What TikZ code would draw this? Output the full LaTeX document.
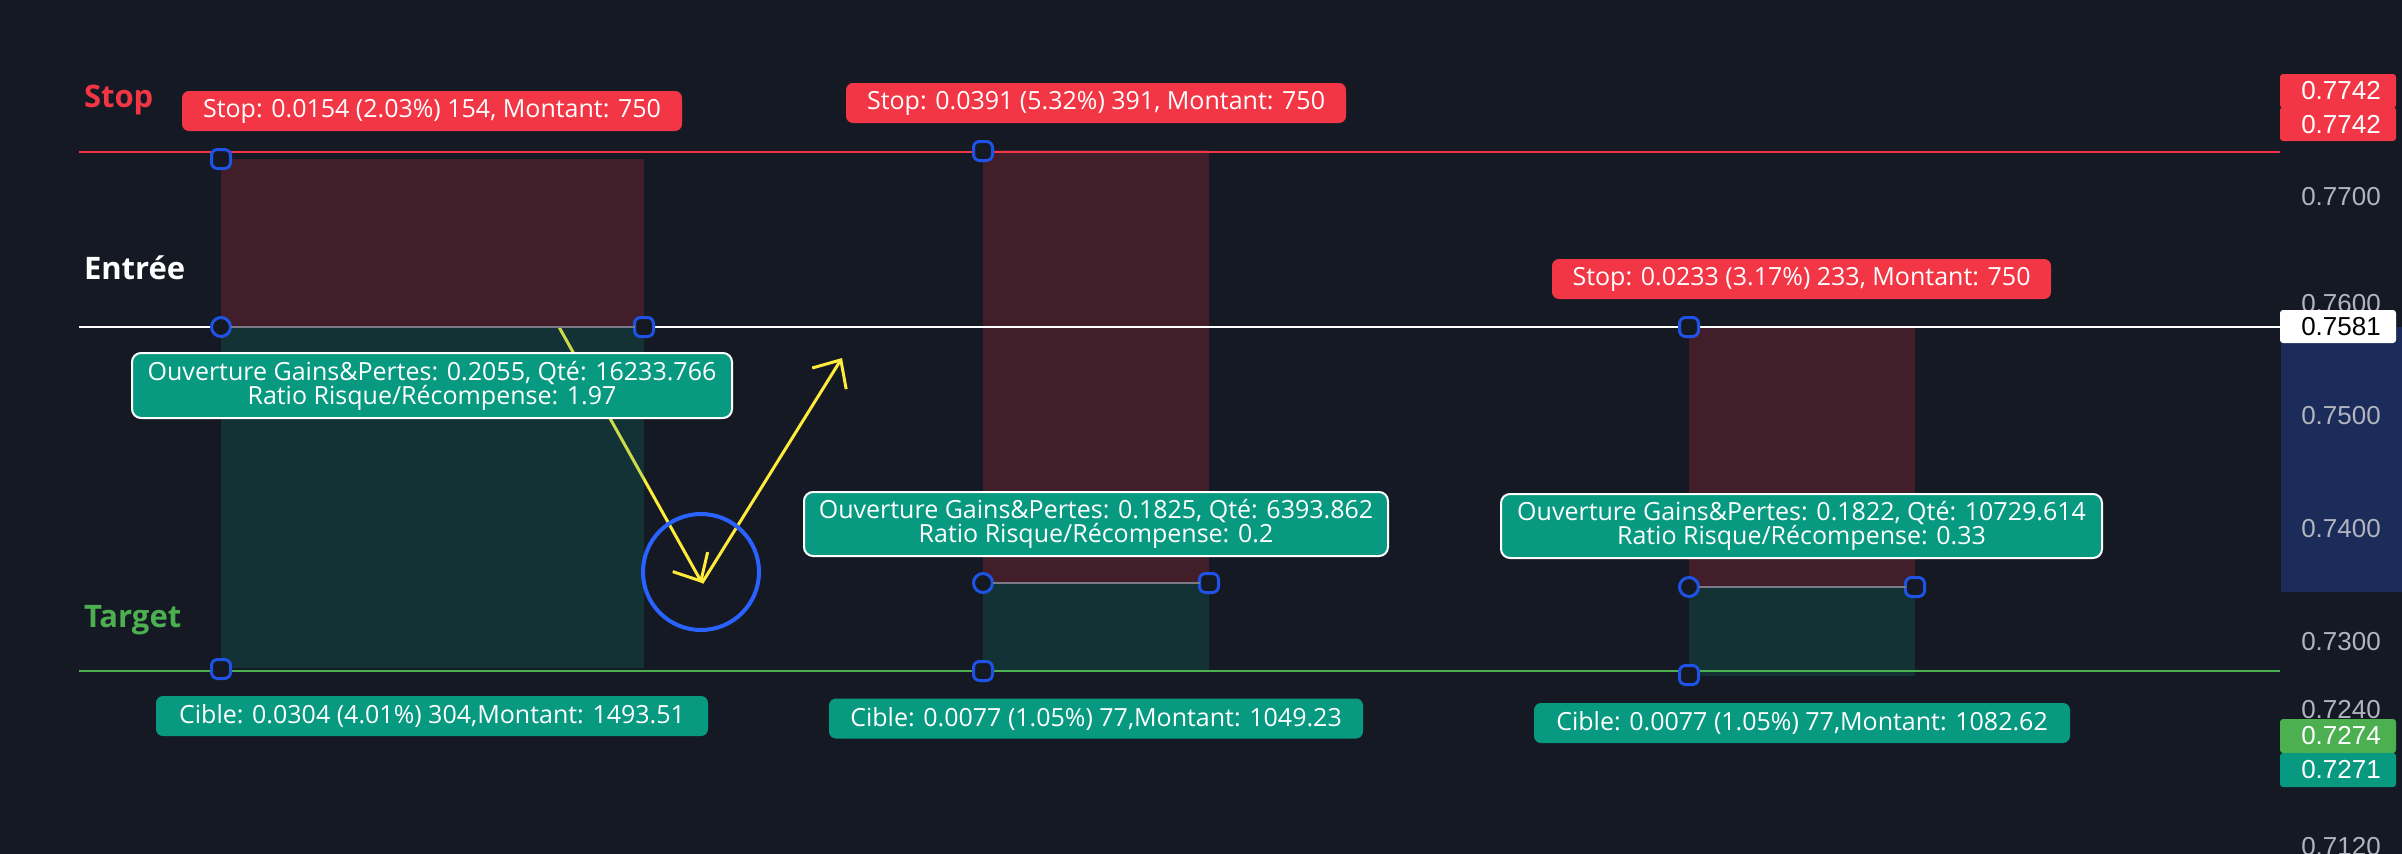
\documentclass[tikz,border=0pt]{standalone}
\usepackage{fontspec}
\setmainfont{Open Sans}
\newfontfamily\axisfont{Liberation Sans}
\usetikzlibrary{arrows.meta}
\definecolor{bg}{HTML}{151924}
\definecolor{tvred}{HTML}{F23645}
\definecolor{tvteal}{HTML}{089981}
\definecolor{tvgreen}{HTML}{4CAF50}
\definecolor{tvblue}{HTML}{2962FF}
\definecolor{handleblue}{HTML}{1E53E5}
\definecolor{axisgrey}{HTML}{B2B5BE}
\definecolor{midgrey}{HTML}{787B86}
\definecolor{scaleblue}{HTML}{1B2C5B}
\definecolor{arrowyellow}{HTML}{FFEB3B}
\begin{document}
\begin{tikzpicture}[x=1pt,y=-1pt,
  every node/.style={inner sep=0pt, outer sep=0pt},
  boxfont/.style={font=\fontsize{25}{24}\selectfont},
  stopbox/.style={boxfont, fill=tvred, rounded corners=7pt, minimum height=40pt, text=white},
  ciblebox/.style={boxfont, fill=tvteal, rounded corners=7pt, minimum height=40pt, text=white},
  infobox/.style={boxfont, fill=tvteal, draw=white, line width=2pt, rounded corners=9pt, text=white, align=center},
  hsq/.style={draw=handleblue, fill=bg, line width=3pt, rounded corners=6pt, minimum size=19pt},
  hcirc/.style={draw=handleblue, fill=bg, line width=3pt, circle, minimum size=19pt},
  sidelabel/.style={font=\fontsize{31}{31}\selectfont\bfseries, anchor=base west},
  axislabel/.style={font=\axisfont\fontsize{26}{26}\selectfont, text=axisgrey},
  axisvalue/.style={font=\axisfont\fontsize{26}{26}\selectfont, text=white},
  redzone/.style={fill=tvred, fill opacity=0.2},
  greenzone/.style={fill=tvteal, fill opacity=0.2},
  yarrow/.style={draw=arrowyellow, line width=3pt, -{Straight Barb[length=22pt,width=40pt]}},
]
% background
\fill[bg] (0,0) rectangle (2402,854);
\useasboundingbox (0,0) rectangle (2402,854);

% arrows (below the translucent zones)
\coordinate (a1s) at (559,327);
\coordinate (a1e) at (702,583);
\coordinate (a2e) at (842,358);
\draw[yarrow] (a1s) -- (a1e);
\draw[yarrow] (a1e) -- (a2e);

% zones
\fill[redzone] (221,159) rectangle (644,327);
\fill[greenzone] (221,327) rectangle (644,668);
\fill[redzone] (983,150) rectangle (1209,583);
\fill[greenzone] (983,583) rectangle (1209,671);
\fill[redzone] (1689,327) rectangle (1915,587);
\fill[greenzone] (1689,587) rectangle (1915,676);

% level lines
\draw[tvred, line width=2pt] (79,152) -- (2280,152);
\draw[white, line width=2pt] (79,327) -- (2280,327);
\draw[tvgreen, line width=2pt] (79,671) -- (2280,671);

% circle highlight
\draw[tvblue, line width=4pt] (701,572) circle (58pt);

% handles
\node[hsq] (t1stop) at (221,159) {};
\node[hcirc] (t1entry) at (221,327) {};
\node[hsq] (t1right) at (644,327) {};
\node[hsq] (t1target) at (221,669) {};
\node[hsq] (t2stop) at (983,151) {};
\node[hcirc] (t2entry) at (983,583) {};
\node[hsq] (t2right) at (1209,583) {};
\node[hsq] (t2target) at (983,671) {};
\node[hsq] (t3stop) at (1689,327) {};
\node[hcirc] (t3entry) at (1689,587) {};
\node[hsq] (t3right) at (1915,587) {};
\node[hsq] (t3target) at (1689,675) {};
\draw[midgrey, line width=2pt] (t1entry) -- (t1right);
\draw[midgrey, line width=2pt] (t2entry) -- (t2right);
\draw[midgrey, line width=2pt] (t3entry) -- (t3right);

% boxes
\node[stopbox, minimum width=500pt] (s1) at (432,111) {Stop: 0.0154 (2.03\%) 154, Montant: 750};
\node[stopbox, minimum width=500pt] (s2) at (1096,103) {Stop: 0.0391 (5.32\%) 391, Montant: 750};
\node[stopbox, minimum width=499pt] (s3) at (1801.5,279) {Stop: 0.0233 (3.17\%) 233, Montant: 750};
\node[infobox, minimum width=600pt, minimum height=65pt] (i1) at (432,385.5) {Ouverture Gains\&Pertes: 0.2055, Qté: 16233.766\\Ratio Risque/Récompense: 1.97};
\node[infobox, minimum width=584pt, minimum height=64pt] (i2) at (1096,524) {Ouverture Gains\&Pertes: 0.1825, Qté: 6393.862\\Ratio Risque/Récompense: 0.2};
\node[infobox, minimum width=601pt, minimum height=64pt] (i3) at (1801.5,526) {Ouverture Gains\&Pertes: 0.1822, Qté: 10729.614\\Ratio Risque/Récompense: 0.33};
\node[ciblebox, minimum width=552pt] (c1) at (432,716) {Cible: 0.0304 (4.01\%) 304,Montant: 1493.51};
\node[ciblebox, minimum width=534pt] (c2) at (1096,718.5) {Cible: 0.0077 (1.05\%) 77,Montant: 1049.23};
\node[ciblebox, minimum width=536pt] (c3) at (1802,723) {Cible: 0.0077 (1.05\%) 77,Montant: 1082.62};

% side labels
\node[sidelabel, text=tvred] (lstop) at (84,107) {Stop};
\node[sidelabel, text=white] (lentry) at (84,279) {Entrée};
\node[sidelabel, text=tvgreen] (ltarget) at (84,627) {Target};

% price scale
\fill[scaleblue] (2281,327) rectangle (2402,592);
\node[axislabel] (p7700) at (2341,197) {0.7700};
\node[axislabel] (p7600) at (2341,304) {0.7600};
\node[axislabel] (p7500) at (2341,416) {0.7500};
\node[axislabel] (p7400) at (2341,529) {0.7400};
\node[axislabel] (p7300) at (2341,642) {0.7300};
\node[axislabel] (p7240) at (2341,710) {0.7240};
\node[axislabel] (p7180) at (2341,774) {0.7180};
\node[axislabel] (p7120) at (2341,847) {0.7120};

\fill[tvred, rounded corners=3pt] (2280,74) rectangle (2396,108);
\fill[tvred, rounded corners=3pt] (2280,107) rectangle (2396,141);
\node[axisvalue] (v1) at (2341,91) {0.7742};
\node[axisvalue] (v2) at (2341,125) {0.7742};
\fill[white, rounded corners=3pt] (2280,310) rectangle (2396,343);
\node[axisvalue, text=black] (v3) at (2341,327) {0.7581};
\fill[tvgreen, rounded corners=3pt] (2280,719) rectangle (2396,753);
\node[axisvalue] (v4) at (2341,736) {0.7274};
\fill[tvteal, rounded corners=3pt] (2280,753) rectangle (2396,787);
\node[axisvalue] (v5) at (2341,770) {0.7271};
\end{tikzpicture}
\end{document}
